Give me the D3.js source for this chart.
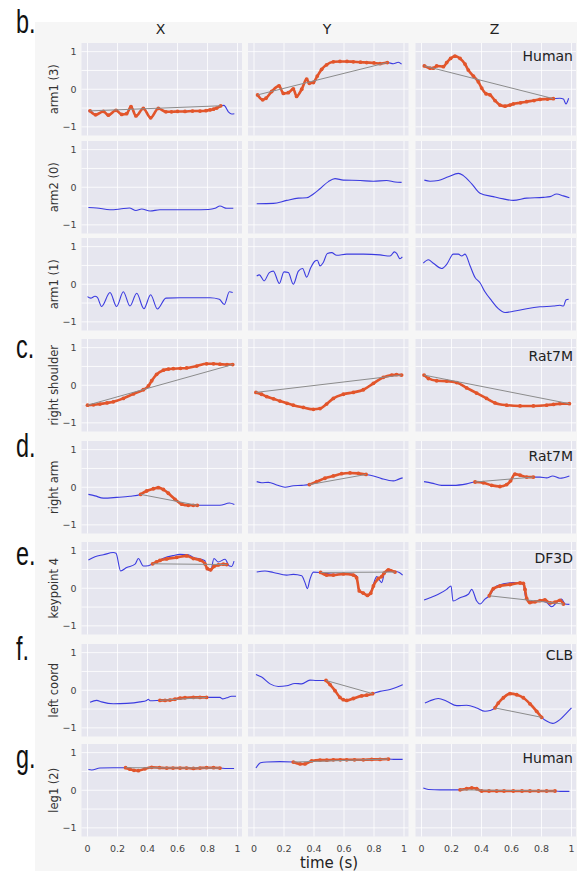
<!DOCTYPE html>
<html lang="en">
<head>
<meta charset="UTF-8">
<title>trajectories</title>
<script src="https://d3js.org/d3.v7.min.js"></script>
<style>
    body { margin: 0; background: #fff; }
    svg text { font-family: "DejaVu Sans", sans-serif; }
    svg text.letter { font-family: "Liberation Sans Narrow", "Liberation Sans", sans-serif; }
</style>
</head>
<body>
<svg id="chart" width="577" height="871"></svg>
<script>
// ---- labels ----
const colNames = ["X", "Y", "Z"];
const rowNames = ["arm1 (3)", "arm2 (0)", "arm1 (1)", "right shoulder", "right arm", "keypoint 4", "left coord", "leg1 (2)"];
const datasetNames = ["Human", null, null, "Rat7M", "Rat7M", "DF3D", "CLB", "Human"];
const panelLetters = [["b.", 0], ["c.", 3], ["d.", 4], ["e.", 5], ["f.", 6], ["g.", 7]];
const xTicks = [0, 0.2, 0.4, 0.6, 0.8, 1];
const yTicks = [-1, 0, 1];
const yGrid = [-1, -0.5, 0, 0.5, 1];

// ---- data: [time, value] ----
// b. arm1 (3)
const arm13Blue = [
  [[0.005,-0.58],[0.017,-0.575],[0.054,-0.68],[0.106,-0.59],[0.139,-0.69],[0.19,-0.56],[0.228,-0.67],[0.261,-0.65],[0.29,-0.46],[0.323,-0.71],[0.372,-0.51],[0.421,-0.76],[0.472,-0.51],[0.523,-0.6],[0.617,-0.59],[0.728,-0.58],[0.817,-0.55],[0.861,-0.5],[0.888,-0.44],[0.91,-0.43],[0.939,-0.6],[0.961,-0.66],[0.979,-0.65]],
  [[0.018,-0.15],[0.024,-0.15],[0.058,-0.28],[0.08,-0.24],[0.118,-0.06],[0.167,0.09],[0.196,-0.11],[0.229,-0.09],[0.262,0.01],[0.284,-0.19],[0.318,0.0],[0.351,0.27],[0.369,0.16],[0.396,0.18],[0.422,0.35],[0.451,0.53],[0.484,0.65],[0.529,0.73],[0.573,0.74],[0.662,0.73],[0.751,0.71],[0.84,0.68],[0.889,0.71],[0.929,0.68],[0.962,0.72],[0.984,0.67]],
  [[0.012,0.65],[0.019,0.62],[0.057,0.56],[0.079,0.56],[0.101,0.62],[0.146,0.6],[0.168,0.71],[0.194,0.82],[0.223,0.88],[0.257,0.82],[0.29,0.67],[0.312,0.51],[0.346,0.35],[0.379,0.2],[0.401,0.03],[0.43,-0.12],[0.457,-0.15],[0.49,-0.3],[0.523,-0.42],[0.557,-0.45],[0.612,-0.39],[0.701,-0.33],[0.79,-0.27],[0.879,-0.25],[0.923,-0.24],[0.946,-0.26],[0.963,-0.39],[0.981,-0.24]]
];
const arm13Orange = [
  [[0.017,-0.575],[0.054,-0.68],[0.106,-0.59],[0.139,-0.69],[0.19,-0.56],[0.228,-0.67],[0.261,-0.65],[0.29,-0.46],[0.323,-0.71],[0.372,-0.51],[0.421,-0.76],[0.472,-0.51],[0.523,-0.6],[0.56,-0.6],[0.6,-0.59],[0.65,-0.59],[0.7,-0.58],[0.75,-0.58],[0.79,-0.57],[0.817,-0.55],[0.84,-0.53],[0.861,-0.5],[0.888,-0.44]],
  [[0.024,-0.15],[0.058,-0.28],[0.08,-0.24],[0.118,-0.06],[0.167,0.09],[0.196,-0.11],[0.229,-0.09],[0.262,0.01],[0.284,-0.19],[0.318,0.0],[0.351,0.27],[0.369,0.16],[0.396,0.18],[0.422,0.35],[0.451,0.53],[0.484,0.65],[0.529,0.73],[0.573,0.74],[0.62,0.74],[0.662,0.73],[0.71,0.72],[0.751,0.71],[0.8,0.7],[0.84,0.68],[0.889,0.71]],
  [[0.019,0.62],[0.057,0.56],[0.079,0.56],[0.101,0.62],[0.146,0.6],[0.168,0.71],[0.194,0.82],[0.223,0.88],[0.257,0.82],[0.29,0.67],[0.312,0.51],[0.346,0.35],[0.379,0.2],[0.401,0.03],[0.43,-0.12],[0.457,-0.15],[0.49,-0.3],[0.523,-0.42],[0.557,-0.45],[0.59,-0.42],[0.612,-0.39],[0.66,-0.36],[0.701,-0.33],[0.75,-0.3],[0.79,-0.27],[0.84,-0.26],[0.879,-0.25]]
];
// arm2 (0)
const arm20Blue = [
  [[0.006,-0.54],[0.061,-0.55],[0.15,-0.6],[0.217,-0.58],[0.279,-0.55],[0.323,-0.62],[0.361,-0.58],[0.417,-0.63],[0.483,-0.6],[0.594,-0.6],[0.706,-0.6],[0.806,-0.59],[0.85,-0.56],[0.883,-0.5],[0.928,-0.56],[0.972,-0.56]],
  [[0.018,-0.44],[0.129,-0.43],[0.218,-0.35],[0.296,-0.29],[0.351,-0.28],[0.396,-0.18],[0.44,-0.04],[0.496,0.15],[0.54,0.23],[0.596,0.19],[0.707,0.18],[0.796,0.16],[0.884,0.18],[0.94,0.14],[0.984,0.13]],
  [[0.019,0.19],[0.057,0.16],[0.112,0.18],[0.179,0.28],[0.246,0.37],[0.279,0.31],[0.335,0.09],[0.39,-0.16],[0.479,-0.25],[0.546,-0.31],[0.612,-0.35],[0.701,-0.29],[0.812,-0.27],[0.857,-0.25],[0.901,-0.18],[0.946,-0.23],[0.986,-0.28]]
];
// arm1 (1)
const arm11Blue = [
  [[0,-0.33],[0.021,-0.37],[0.05,-0.32],[0.066,-0.35],[0.094,-0.59],[0.15,-0.22],[0.194,-0.59],[0.239,-0.2],[0.283,-0.58],[0.328,-0.24],[0.376,-0.65],[0.421,-0.28],[0.466,-0.66],[0.523,-0.37],[0.617,-0.36],[0.728,-0.36],[0.817,-0.36],[0.879,-0.4],[0.912,-0.54],[0.946,-0.2],[0.968,-0.22]],
  [[0.018,0.22],[0.036,0.25],[0.067,0.09],[0.102,0.31],[0.129,0.35],[0.169,0.02],[0.2,0.33],[0.229,0.31],[0.262,0.0],[0.296,0.35],[0.324,0.42],[0.351,0.19],[0.378,0.44],[0.407,0.62],[0.422,0.64],[0.44,0.49],[0.462,0.58],[0.489,0.82],[0.518,0.84],[0.551,0.77],[0.618,0.8],[0.729,0.8],[0.84,0.78],[0.907,0.75],[0.936,0.86],[0.951,0.82],[0.973,0.68],[0.989,0.73]],
  [[0.012,0.56],[0.046,0.65],[0.079,0.56],[0.134,0.42],[0.168,0.53],[0.212,0.8],[0.246,0.8],[0.268,0.75],[0.29,0.8],[0.323,0.5],[0.357,0.18],[0.39,0.04],[0.423,-0.2],[0.468,-0.44],[0.512,-0.65],[0.557,-0.75],[0.612,-0.72],[0.701,-0.65],[0.79,-0.6],[0.879,-0.58],[0.923,-0.56],[0.946,-0.58],[0.963,-0.42],[0.981,-0.4]]
];
// c. right shoulder (orange covers the whole trace)
const shoulderOrange = [
  [[0,-0.53],[0.04,-0.52],[0.083,-0.5],[0.13,-0.47],[0.172,-0.44],[0.239,-0.35],[0.306,-0.23],[0.372,-0.12],[0.406,-0.02],[0.428,0.12],[0.461,0.29],[0.506,0.4],[0.54,0.43],[0.572,0.44],[0.62,0.45],[0.661,0.46],[0.728,0.51],[0.794,0.57],[0.84,0.57],[0.883,0.56],[0.93,0.55],[0.968,0.55]],
  [[0.013,-0.19],[0.05,-0.24],[0.084,-0.3],[0.13,-0.36],[0.173,-0.42],[0.22,-0.48],[0.262,-0.53],[0.329,-0.59],[0.396,-0.64],[0.44,-0.62],[0.484,-0.5],[0.529,-0.35],[0.596,-0.24],[0.662,-0.19],[0.729,-0.12],[0.796,0.05],[0.862,0.21],[0.918,0.27],[0.95,0.28],[0.984,0.27]],
  [[0.017,0.27],[0.046,0.18],[0.101,0.12],[0.168,0.11],[0.235,0.07],[0.301,-0.07],[0.368,-0.21],[0.434,-0.35],[0.49,-0.47],[0.568,-0.53],[0.657,-0.55],[0.746,-0.55],[0.834,-0.53],[0.88,-0.51],[0.923,-0.49],[0.986,-0.49]]
];
// d. right arm
const rightArmBlue = [
  [[0.006,-0.19],[0.05,-0.23],[0.106,-0.29],[0.194,-0.27],[0.283,-0.24],[0.354,-0.19],[0.394,-0.1],[0.439,-0.04],[0.472,-0.01],[0.506,-0.06],[0.539,-0.16],[0.583,-0.32],[0.628,-0.45],[0.672,-0.48],[0.732,-0.48],[0.794,-0.48],[0.883,-0.48],[0.946,-0.42],[0.979,-0.46]],
  [[0.018,0.15],[0.051,0.12],[0.096,0.13],[0.151,0.06],[0.207,0.0],[0.262,0.04],[0.318,0.05],[0.369,0.07],[0.418,0.15],[0.473,0.24],[0.529,0.3],[0.584,0.36],[0.64,0.38],[0.696,0.37],[0.747,0.34],[0.796,0.3],[0.851,0.23],[0.929,0.17],[0.962,0.21],[0.991,0.25]],
  [[0.017,0.15],[0.068,0.11],[0.134,0.05],[0.212,0.05],[0.301,0.09],[0.357,0.14],[0.412,0.12],[0.468,0.05],[0.523,0.02],[0.568,0.07],[0.594,0.17],[0.623,0.35],[0.657,0.32],[0.701,0.27],[0.746,0.27],[0.79,0.27],[0.834,0.25],[0.874,0.3],[0.923,0.24],[0.986,0.3]]
];
const rightArmOrange = [
  [[0.354,-0.19],[0.394,-0.1],[0.439,-0.04],[0.472,-0.01],[0.506,-0.06],[0.539,-0.16],[0.583,-0.32],[0.628,-0.45],[0.672,-0.48],[0.705,-0.48],[0.732,-0.48]],
  [[0.369,0.07],[0.418,0.15],[0.473,0.24],[0.529,0.3],[0.584,0.36],[0.64,0.38],[0.696,0.37],[0.747,0.34]],
  [[0.357,0.14],[0.412,0.12],[0.468,0.05],[0.523,0.02],[0.568,0.07],[0.594,0.17],[0.623,0.35],[0.657,0.32],[0.701,0.27],[0.746,0.27]]
];
// e. keypoint 4
const keypointBlue = [
  [[0.006,0.75],[0.05,0.84],[0.106,0.89],[0.172,0.95],[0.19,0.93],[0.221,0.46],[0.261,0.55],[0.317,0.64],[0.339,0.79],[0.372,0.59],[0.406,0.6],[0.434,0.65],[0.506,0.8],[0.572,0.87],[0.617,0.9],[0.672,0.89],[0.706,0.82],[0.75,0.78],[0.783,0.73],[0.794,0.52],[0.821,0.46],[0.843,0.79],[0.872,0.7],[0.917,0.77],[0.946,0.59],[0.961,0.58],[0.977,0.72]],
  [[0.018,0.43],[0.073,0.46],[0.129,0.42],[0.218,0.35],[0.262,0.37],[0.318,0.33],[0.34,0.15],[0.356,-0.01],[0.373,0.24],[0.396,0.43],[0.44,0.42],[0.529,0.37],[0.618,0.39],[0.684,0.33],[0.696,-0.03],[0.718,-0.12],[0.762,-0.19],[0.784,-0.04],[0.818,0.31],[0.851,0.15],[0.873,0.43],[0.929,0.46],[0.969,0.42],[0.991,0.35]],
  [[0.017,-0.31],[0.057,-0.25],[0.112,-0.16],[0.168,-0.03],[0.197,0.06],[0.21,-0.34],[0.257,-0.25],[0.312,-0.16],[0.335,-0.03],[0.368,-0.34],[0.39,-0.42],[0.423,-0.29],[0.452,-0.2],[0.501,0.06],[0.612,0.15],[0.679,0.11],[0.697,-0.29],[0.746,-0.36],[0.79,-0.34],[0.834,-0.38],[0.868,-0.49],[0.901,-0.38],[0.934,-0.29],[0.957,-0.42],[0.986,-0.43]]
];
const keypointOrange = [
  [[0.434,0.65],[0.46,0.7],[0.483,0.74],[0.528,0.78],[0.594,0.82],[0.661,0.86],[0.706,0.79],[0.75,0.75],[0.783,0.65],[0.799,0.52],[0.821,0.49],[0.843,0.58],[0.872,0.62],[0.906,0.64],[0.928,0.63]],
  [[0.444,0.42],[0.484,0.35],[0.529,0.35],[0.596,0.38],[0.662,0.35],[0.684,0.28],[0.702,-0.07],[0.729,-0.13],[0.756,-0.19],[0.778,-0.13],[0.796,0.06],[0.829,0.26],[0.851,0.31],[0.867,0.4],[0.896,0.49],[0.94,0.43]],
  [[0.452,-0.2],[0.479,-0.01],[0.523,0.06],[0.59,0.1],[0.657,0.14],[0.679,0.13],[0.69,-0.03],[0.701,-0.27],[0.723,-0.38],[0.757,-0.36],[0.79,-0.33],[0.823,-0.31],[0.857,-0.39],[0.89,-0.37],[0.923,-0.32],[0.946,-0.42]]
];
// f. left coord
const leftCoordBlue = [
  [[0.017,-0.32],[0.061,-0.27],[0.094,-0.31],[0.172,-0.36],[0.261,-0.35],[0.35,-0.31],[0.394,-0.27],[0.406,-0.24],[0.417,-0.28],[0.483,-0.27],[0.55,-0.26],[0.617,-0.21],[0.706,-0.19],[0.794,-0.19],[0.839,-0.19],[0.883,-0.19],[0.901,-0.23],[0.928,-0.2],[0.961,-0.16],[0.99,-0.16]],
  [[0.013,0.42],[0.051,0.35],[0.107,0.17],[0.162,0.1],[0.218,0.12],[0.273,0.18],[0.318,0.17],[0.373,0.27],[0.418,0.26],[0.48,0.26],[0.507,0.15],[0.54,-0.01],[0.573,-0.19],[0.618,-0.27],[0.662,-0.22],[0.718,-0.15],[0.751,-0.13],[0.791,-0.09],[0.84,-0.03],[0.907,0.02],[0.951,0.08],[0.991,0.15]],
  [[0.023,-0.34],[0.057,-0.28],[0.112,-0.22],[0.168,-0.29],[0.235,-0.41],[0.301,-0.4],[0.368,-0.47],[0.423,-0.56],[0.457,-0.54],[0.49,-0.47],[0.512,-0.34],[0.546,-0.2],[0.59,-0.09],[0.635,-0.12],[0.679,-0.2],[0.723,-0.36],[0.768,-0.56],[0.801,-0.72],[0.834,-0.82],[0.874,-0.88],[0.923,-0.78],[0.968,-0.6],[1.0,-0.47]]
];
const leftCoordOrange = [
  [[0.483,-0.27],[0.517,-0.27],[0.55,-0.26],[0.583,-0.24],[0.617,-0.21],[0.65,-0.2],[0.706,-0.19],[0.75,-0.19],[0.794,-0.19]],
  [[0.48,0.26],[0.507,0.15],[0.54,-0.01],[0.573,-0.19],[0.595,-0.25],[0.618,-0.27],[0.662,-0.22],[0.718,-0.15],[0.751,-0.13],[0.791,-0.09]],
  [[0.49,-0.47],[0.512,-0.34],[0.546,-0.2],[0.59,-0.09],[0.635,-0.12],[0.679,-0.2],[0.723,-0.36],[0.768,-0.56],[0.801,-0.72]]
];
// g. leg1 (2)
const leg12Blue = [
  [[0.006,0.55],[0.028,0.54],[0.083,0.59],[0.172,0.6],[0.254,0.6],[0.283,0.56],[0.339,0.52],[0.383,0.57],[0.428,0.61],[0.528,0.59],[0.617,0.59],[0.706,0.58],[0.794,0.6],[0.883,0.59],[0.928,0.58],[0.977,0.58]],
  [[0.013,0.59],[0.044,0.73],[0.084,0.75],[0.173,0.76],[0.262,0.75],[0.307,0.7],[0.34,0.7],[0.384,0.78],[0.44,0.8],[0.529,0.81],[0.618,0.81],[0.729,0.81],[0.84,0.82],[0.896,0.83],[0.94,0.82],[0.991,0.82]],
  [[0.012,0.06],[0.046,0.02],[0.123,0.01],[0.257,0.01],[0.301,0.04],[0.335,0.06],[0.368,0.04],[0.401,-0.02],[0.501,-0.02],[0.612,-0.02],[0.723,-0.02],[0.834,-0.02],[0.89,-0.02],[0.934,-0.03],[0.986,-0.03]]
];
const leg12Orange = [
  [[0.254,0.6],[0.283,0.56],[0.31,0.53],[0.339,0.52],[0.383,0.57],[0.428,0.61],[0.48,0.6],[0.528,0.59],[0.57,0.59],[0.617,0.59],[0.66,0.59],[0.706,0.58],[0.75,0.59],[0.794,0.6],[0.84,0.6],[0.883,0.59]],
  [[0.262,0.75],[0.307,0.7],[0.34,0.7],[0.384,0.78],[0.44,0.8],[0.485,0.8],[0.529,0.81],[0.575,0.81],[0.618,0.81],[0.67,0.81],[0.729,0.81],[0.785,0.82],[0.84,0.82],[0.896,0.83]],
  [[0.257,0.01],[0.301,0.04],[0.335,0.06],[0.368,0.04],[0.401,-0.02],[0.45,-0.02],[0.501,-0.02],[0.55,-0.02],[0.612,-0.02],[0.67,-0.02],[0.723,-0.02],[0.78,-0.02],[0.834,-0.02],[0.89,-0.02]]
];

const blueRows = [arm13Blue, arm20Blue, arm11Blue, shoulderOrange, rightArmBlue, keypointBlue, leftCoordBlue, leg12Blue];
const orangeRows = [arm13Orange, null, null, shoulderOrange, rightArmOrange, keypointOrange, leftCoordOrange, leg12Orange];

// ---- layout ----
const colLeft = [81.5, 248, 415.5];
const panelW = 160.5, panelH = 92.5;
const rowTop = [43, 141, 238, 339, 441, 542, 644, 744];
const letterBase = { "b.": 33, "c.": 358, "d.": 457, "e.": 565, "f.": 660, "g.": 768 };
const datasetBase = [61, 0, 0, 361, 461, 563, 660, 763];

const blueCol = "#3b3be0", orangeCol = "#e2552b", grayCol = "#8c8c8c";

const svg = d3.select("#chart");
svg.append("rect").attr("x", 35).attr("y", 22).attr("width", 542).attr("height", 849).attr("fill", "#f6f6f6");

const x = d3.scaleLinear().domain([-0.04, 1.03]).range([0, panelW]);
const y = d3.scaleLinear().domain([-1.23, 1.23]).range([panelH, 0]);
const line = d3.line().x(d => x(d[0])).y(d => y(d[1])).curve(d3.curveMonotoneX);

rowNames.forEach((name, r) => {
    colNames.forEach((c, ci) => {
        const g = svg.append("g").attr("transform", `translate(${colLeft[ci]},${rowTop[r]})`);
        g.append("rect").attr("width", panelW).attr("height", panelH).attr("fill", "#e6e6ef");

        // grid
        g.selectAll(".vg").data(xTicks).enter().append("line")
            .attr("x1", d => x(d)).attr("x2", d => x(d)).attr("y1", 0).attr("y2", panelH)
            .attr("stroke", "#fff").attr("stroke-width", 0.8);
        g.selectAll(".hg").data(yGrid).enter().append("line")
            .attr("y1", d => y(d)).attr("y2", d => y(d)).attr("x1", 0).attr("x2", panelW)
            .attr("stroke", "#fff").attr("stroke-width", 0.8);

        const blue = blueRows[r][ci];
        g.append("path").attr("d", line(blue)).attr("fill", "none")
            .attr("stroke", blueCol).attr("stroke-width", 1.1);

        const orangeSet = orangeRows[r];
        if (orangeSet) {
            const o = orangeSet[ci];
            g.append("path").attr("d", line(o)).attr("fill", "none")
                .attr("stroke", orangeCol).attr("stroke-width", 2.6);
            g.selectAll(".dot").data(o).enter().append("circle")
                .attr("cx", d => x(d[0])).attr("cy", d => y(d[1])).attr("r", 1.9)
                .attr("fill", orangeCol);
            // straight gap line between first and last imputed sample
            const ends = [o[0], o[o.length - 1]];
            g.append("line")
                .attr("x1", x(ends[0][0])).attr("y1", y(ends[0][1]))
                .attr("x2", x(ends[1][0])).attr("y2", y(ends[1][1]))
                .attr("stroke", grayCol).attr("stroke-width", 1);
        }

        // y tick labels on the first column
        if (ci === 0) {
            g.selectAll(".yt").data(yTicks).enter().append("text")
                .attr("x", -5).attr("y", d => y(d)).attr("dy", "0.35em")
                .attr("text-anchor", "end").attr("font-size", 9.5).attr("fill", "#444")
                .text(d => d3.format("d")(d));
        }
        // x tick labels on the bottom row
        if (r === rowNames.length - 1) {
            g.selectAll(".xt").data(xTicks).enter().append("text")
                .attr("x", d => x(d)).attr("y", panelH + 15)
                .attr("text-anchor", "middle").attr("font-size", 9.5).attr("fill", "#444")
                .text(d => d === 0 || d === 1 ? d : d3.format(".1f")(d));
        }
    });

    // row label
    const cy = rowTop[r] + panelH / 2;
    svg.append("text").attr("transform", `translate(58,${cy}) rotate(-90)`)
        .attr("text-anchor", "middle").attr("font-size", 11.5).attr("fill", "#333")
        .text(name);

    if (datasetNames[r]) {
        svg.append("text").attr("x", 573).attr("y", datasetBase[r])
            .attr("text-anchor", "end").attr("font-size", 14).attr("fill", "#222")
            .text(datasetNames[r]);
    }
});

// column titles
colNames.forEach((c, ci) => {
    svg.append("text").attr("x", colLeft[ci] + x(0.5) - 2).attr("y", 34)
        .attr("text-anchor", "middle").attr("font-size", 14).attr("fill", "#222").text(c);
});

svg.append("text").attr("x", colLeft[1] + x(0.5)).attr("y", 868)
    .attr("text-anchor", "middle").attr("font-size", 15).attr("fill", "#222").text("time (s)");

// panel letters (tall, narrow glyphs)
panelLetters.forEach(([t]) => {
    svg.append("text").attr("class", "letter")
        .attr("transform", `translate(16,${letterBase[t]}) scale(0.78,1.1)`)
        .attr("font-size", 30).attr("fill", "#111").text(t);
});
</script>
</body>
</html>
